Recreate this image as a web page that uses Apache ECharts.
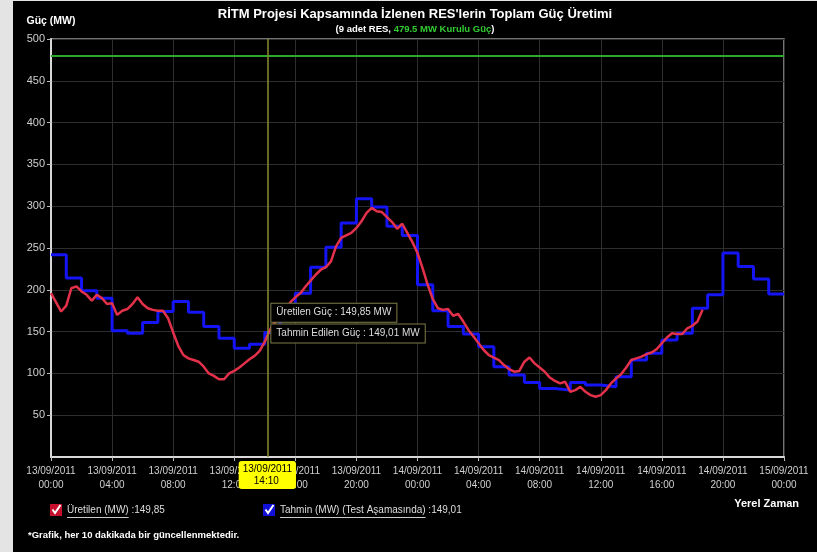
<!DOCTYPE html>
<html>
<head>
<meta charset="utf-8">
<script src="https://cdn.jsdelivr.net/npm/echarts@6/dist/echarts.min.js"></script>
<style>
	html, body { margin: 0; padding: 0; background: #e4e4e4; }
	#chart { position: absolute; left: 13px; top: 1px; width: 804px; height: 551px; background: #000; }
</style>
</head>
<body>
<div id="chart"></div>
<script>
// Uretilen (MW) - 20 dakikalik okumalar, 13/09/2011 00:00'dan itibaren
var uretilenValues = [
	196, 185, 174, 181, 202, 204, 198, 194, 187, 194, 190, 183, 184, 170, 175, 177,
	183, 191, 183, 178, 176, 175, 175, 166, 149, 133, 122, 118, 116, 114, 108, 100,
	97, 93, 93, 100, 103, 107, 112, 117, 121, 127, 138, 152, 161, 166, 173, 185,
	191, 196, 204, 211, 218, 224, 227, 234, 252, 262, 265, 268, 274, 282, 292, 298,
	294, 293, 287, 281, 273, 279, 268, 257, 244, 226, 206, 189, 178, 176, 177, 169,
	171, 162, 152, 144, 136, 128, 122, 119, 116, 110, 105, 102, 103, 114, 119, 112,
	107, 102, 95, 91, 88, 90, 78, 80, 84, 78, 74, 72, 74, 80, 88, 94,
	99, 107, 116, 118, 120, 123, 125, 129, 136, 143, 148, 147, 147, 154, 157, 162,
	176
];
// Tahmin (MW) - saatlik
var tahminValues = [
	242, 214, 199, 190, 151, 148, 161, 174, 186, 173, 156, 142, 130, 135, 149, 176,
	196, 227, 251, 280, 309, 299, 276, 265, 206, 175, 156, 147, 132, 108, 98, 89,
	82, 80, 89, 86, 84, 96, 116, 124, 140, 148, 178, 194, 244, 228, 213, 195,
	195
];
var tickLabels = [
	'13/09/2011\n00:00', '13/09/2011\n04:00', '13/09/2011\n08:00', '13/09/2011\n12:00',
	'13/09/2011\n16:00', '13/09/2011\n20:00', '14/09/2011\n00:00', '14/09/2011\n04:00',
	'14/09/2011\n08:00', '14/09/2011\n12:00', '14/09/2011\n16:00', '14/09/2011\n20:00',
	'15/09/2011\n00:00'
];
var kuruluGuc = 479.5;
var pointerHour = 14 + 10 / 60; // 13/09/2011 14:10
var uretilenNow = 149.85;
var tahminNow = 149.01;

var FONT = '"Liberation Sans", Arial, sans-serif';

function trNum(v) {
	return v.toFixed(2).replace('.', ',');
}

//imlec etiketi: ikinci satir bosluklarla ortalanir
function hourLabel(h) {
	var day = 13 + Math.floor(h / 24);
	var hh = Math.floor(h % 24);
	var mm = Math.round((h - Math.floor(h)) * 60);
	return day + '/09/2011\n    ' + (hh < 10 ? '0' + hh : hh) + ':' + (mm < 10 ? '0' + mm : mm);
}

function textWidth(txt, font) {
	var ctx = document.createElement('canvas').getContext('2d');
	ctx.font = font;
	return ctx.measureText(txt).width;
}

var redData = [];
for(var i = 0; i < uretilenValues.length; i++) {
	redData.push([i / 3, uretilenValues[i]]);
}
var blueData = [];
for(var i = 0; i < tahminValues.length; i++) {
	blueData.push([i, tahminValues[i]]);
}

var redName = 'Üretilen (MW)';
var blueName = 'Tahmin (MW) (Test Aşamasında)';
var legFont = 'normal 10px ' + FONT;
var redLegLeft = 37, blueLegLeft = 250, legTop = 503;

var myChart = echarts.init(document.getElementById('chart'));
var option = {
	backgroundColor: '#000',
	animation: false,
	color: ['#e3304b', '#1414f5'],
	title: {
		text: 'RİTM Projesi Kapsamında İzlenen RES\'lerin Toplam Güç Üretimi',
		subtext: '(9 adet RES, {g|' + kuruluGuc + ' MW Kurulu Güç})',
		left: 'center',
		top: 2,
		itemGap: 3,
		textStyle: {
			fontFamily: FONT,
			fontSize: 13,
			fontWeight: 'bold',
			color: '#fff'
		},
		subtextStyle: {
			fontFamily: FONT,
			fontSize: 9.5,
			fontWeight: 'bold',
			color: '#fff',
			rich: {
				g: { fontFamily: FONT, fontSize: 9.5, fontWeight: 'bold', color: '#33cc33' }
			}
		}
	},
	grid: {
		left: 38,
		right: 33,
		top: 38,
		bottom: 95,
		show: true,
		borderColor: '#9a9a9a',
		borderWidth: 1.5,
		backgroundColor: '#000'
	},
	legend: [{
		data: [redName],
		left: redLegLeft,
		top: legTop,
		padding: 0,
		itemWidth: 12,
		itemHeight: 12,
		icon: 'rect',
		textStyle: { color: '#ddd', fontFamily: FONT, fontSize: 10 },
		formatter: function(name) { return name + ' :' + trNum(uretilenNow); }
	}, {
		data: [blueName],
		left: blueLegLeft,
		top: legTop,
		padding: 0,
		itemWidth: 12,
		itemHeight: 12,
		icon: 'rect',
		textStyle: { color: '#ddd', fontFamily: FONT, fontSize: 10 },
		formatter: function(name) { return name + ' :' + trNum(tahminNow); }
	}],
	xAxis: {
		type: 'value',
		min: 0,
		max: 48,
		interval: 4,
		axisLine: { lineStyle: { color: '#d8d8d8', width: 2 } },
		axisTick: { show: true, length: 4, lineStyle: { color: '#bbb' } },
		splitLine: { show: true, lineStyle: { color: '#2e2e2e', width: 1 } },
		axisLabel: {
			color: '#cfcfcf',
			fontFamily: FONT,
			fontSize: 10,
			lineHeight: 14,
			margin: 7,
			formatter: function(v) { return tickLabels[Math.round(v / 4)]; }
		},
		axisPointer: {
			show: true,
			status: 'show',
			value: pointerHour,
			snap: false,
			triggerTooltip: false,
			lineStyle: { color: '#8d8d33', width: 1.5, type: 'solid' },
			label: {
				show: true,
				backgroundColor: '#ffff00',
				color: '#000',
				fontFamily: FONT,
				fontSize: 10,
				lineHeight: 12,
				padding: [2, 4],
				margin: 4,
				formatter: function(p) { return hourLabel(p.value); }
			}
		}
	},
	yAxis: {
		type: 'value',
		min: 0,
		max: 500,
		interval: 50,
		name: 'Güç (MW)',
		nameLocation: 'end',
		nameGap: 18,
		nameTextStyle: {
			color: '#fff',
			fontFamily: FONT,
			fontSize: 10.5,
			fontWeight: 'bold',
			align: 'center',
			verticalAlign: 'middle'
		},
		axisLine: { show: true, lineStyle: { color: '#d8d8d8', width: 2 } },
		axisTick: { show: true, length: 4, lineStyle: { color: '#bbb' } },
		splitLine: { show: true, lineStyle: { color: '#2e2e2e', width: 1 } },
		axisLabel: {
			color: '#cfcfcf',
			fontFamily: FONT,
			fontSize: 11,
			margin: 6,
			showMinLabel: false
		}
	},
	series: [{
		name: blueName,
		type: 'line',
		step: 'end',
		data: blueData,
		showSymbol: false,
		lineStyle: { width: 3, color: '#1414f5' },
		itemStyle: { color: '#1010d8' },
		z: 2,
		markPoint: {
			silent: true,
			symbol: 'circle',
			symbolSize: 0,
			data: [{ coord: [pointerHour, tahminNow] }],
			label: {
				show: true,
				position: 'right',
				distance: 4,
				offset: [0, 1],
				formatter: 'Tahmin Edilen Güç : ' + trNum(tahminNow) + ' MW',
				color: '#ddd',
				fontFamily: FONT,
				fontSize: 10,
				backgroundColor: '#000',
				borderColor: '#7c7c48',
				borderWidth: 1,
				padding: [4, 5]
			}
		}
	}, {
		name: redName,
		type: 'line',
		data: redData,
		showSymbol: false,
		lineStyle: { width: 2.5, color: '#e3304b' },
		itemStyle: { color: '#c8102e' },
		z: 3,
		markLine: {
			silent: true,
			symbol: 'none',
			label: { show: false },
			lineStyle: { color: '#2ca82c', width: 2, type: 'solid' },
			data: [{ yAxis: kuruluGuc }]
		},
		markPoint: {
			silent: true,
			symbol: 'circle',
			symbolSize: 0,
			data: [{ coord: [pointerHour, uretilenNow] }],
			label: {
				show: true,
				position: 'right',
				distance: 4,
				offset: [0, -19],
				formatter: 'Üretilen Güç : ' + trNum(uretilenNow) + ' MW',
				color: '#ddd',
				fontFamily: FONT,
				fontSize: 10,
				backgroundColor: '#000',
				borderColor: '#7c7c48',
				borderWidth: 1,
				padding: [4, 5]
			}
		}
	}],
	graphic: [{
		type: 'text',
		right: 18,
		top: 497,
		style: { text: 'Yerel Zaman', fill: '#fff', font: 'bold 11px ' + FONT }
	}, {
		type: 'text',
		left: 15,
		top: 529,
		style: { text: '*Grafik, her 10 dakikada bir güncellenmektedir.', fill: '#fff', font: 'bold 9.5px ' + FONT }
	}, {
		// legend isaretleri
		type: 'polyline',
		shape: { points: [[redLegLeft + 2.5, legTop + 5.5], [redLegLeft + 5, legTop + 9], [redLegLeft + 10.5, legTop + 1]] },
		style: { stroke: '#fff', lineWidth: 2, fill: null },
		z: 100
	}, {
		type: 'polyline',
		shape: { points: [[blueLegLeft + 2.5, legTop + 5.5], [blueLegLeft + 5, legTop + 9], [blueLegLeft + 10.5, legTop + 1]] },
		style: { stroke: '#fff', lineWidth: 2, fill: null },
		z: 100
	}, {
		// alti cizili legend adlari
		type: 'line',
		shape: { x1: redLegLeft + 17, y1: legTop + 13.5, x2: redLegLeft + 17 + textWidth(redName, legFont), y2: legTop + 13.5 },
		style: { stroke: '#ccc', lineWidth: 1 }
	}, {
		type: 'line',
		shape: { x1: blueLegLeft + 17, y1: legTop + 13.5, x2: blueLegLeft + 17 + textWidth(blueName, legFont), y2: legTop + 13.5 },
		style: { stroke: '#ccc', lineWidth: 1 }
	}]
};
myChart.setOption(option);
</script>
</body>
</html>
